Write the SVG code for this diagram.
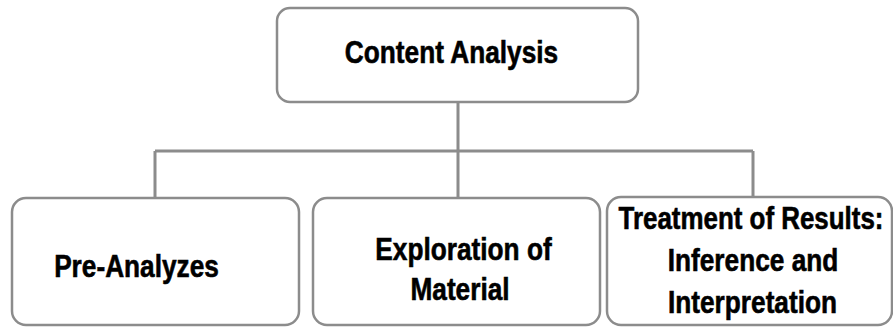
<svg xmlns="http://www.w3.org/2000/svg" width="893" height="327" viewBox="0 0 893 327">
<style>
.box{fill:#ffffff;stroke:#8c8c8c;stroke-width:2.5}
.lbl{font-family:"Liberation Sans",Arial,sans-serif;font-weight:bold;font-size:32px;fill:#000000;stroke:#000000;stroke-width:0.6;text-anchor:middle}
.conn{stroke:#8c8c8c;stroke-width:3;fill:none}
</style>
<rect width="893" height="327" fill="#ffffff"/>
<g id="connectors">
<path class="conn" d="M458 102 V151 M155 151 H753 M155 151 V198 M458 151 V198 M753 151 V197"/>
</g>
<g id="content-analysis">
<rect class="box" x="277" y="8" width="361" height="94" rx="13"/>
<text class="lbl" transform="translate(451.5 63) scale(0.82 1)">Content Analysis</text>
</g>
<g id="pre-analyzes">
<rect class="box" x="12" y="198" width="287" height="127" rx="14"/>
<text class="lbl" transform="translate(136.5 277) scale(0.82 1)">Pre-Analyzes</text>
</g>
<g id="exploration">
<rect class="box" x="313" y="198" width="287" height="127" rx="14"/>
<text class="lbl" transform="translate(463.5 260) scale(0.82 1)">Exploration of</text>
<text class="lbl" transform="translate(460 300) scale(0.82 1)">Material</text>
</g>
<g id="treatment">
<rect class="box" x="607" y="197" width="285" height="128" rx="14"/>
<text class="lbl" transform="translate(751 229) scale(0.81 1)">Treatment of Results:</text>
<text class="lbl" transform="translate(753 271) scale(0.82 1)">Inference and</text>
<text class="lbl" transform="translate(752.5 313) scale(0.82 1)">Interpretation</text>
</g>
</svg>
